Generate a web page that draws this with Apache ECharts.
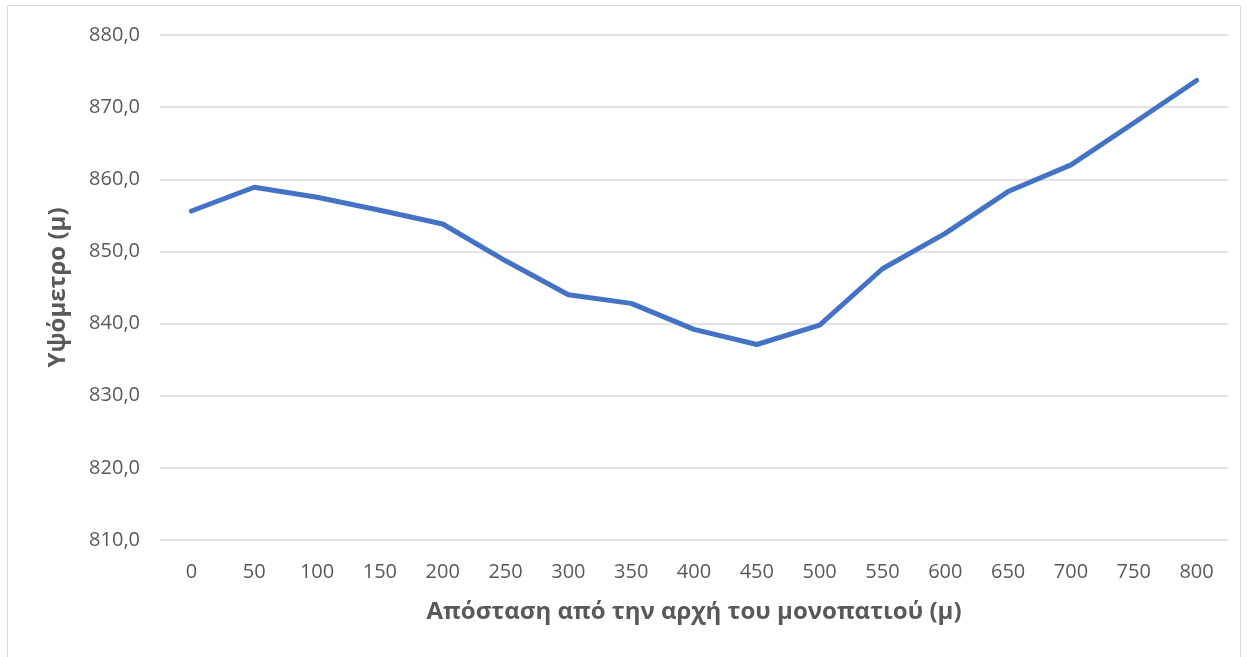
<!DOCTYPE html>
<html>
<head>
<meta charset="utf-8">
<script src="https://cdn.jsdelivr.net/npm/echarts@6/dist/echarts.min.js"></script>
<style>
html,body{margin:0;padding:0;background:#fff;}
#c{width:1252px;height:657px;}
</style>
</head>
<body>
<div id="c"></div>
<script>
const categories = ['0','50','100','150','200','250','300','350','400','450','500','550','600','650','700','750','800'];
const elevation = [855.6, 858.9, 857.5, 855.7, 853.8, 848.7, 844.0, 842.8, 839.2, 837.1, 839.8, 847.6, 852.5, 858.3, 862.0, 867.8, 873.7];
const yTitle = 'Υψόμετρο (μ)';
const xTitle = 'Απόσταση από την αρχή του μονοπατιού (μ)';

const chart = echarts.init(document.getElementById('c'));
const font = '"Open Sans", "Noto Sans", sans-serif';
chart.setOption({
  animation: false,
  backgroundColor: '#fff',
  graphic: [{
    type: 'rect', silent: true,
    shape: {x: 7.5, y: 5.5, width: 1233, height: 700},
    style: {fill: 'none', stroke: '#d9d9d9', lineWidth: 1}
  }],
  grid: {left: 160, right: 24, top: 35, bottom: 117},
  xAxis: {
    type: 'category',
    data: categories,
    boundaryGap: true,
    axisLine: {show: false},
    axisTick: {show: false},
    axisLabel: {color: '#595959', fontSize: 20, fontFamily: font, margin: 22},
    name: xTitle,
    nameLocation: 'middle',
    nameGap: 60,
    nameTextStyle: {color: '#595959', fontSize: 24, fontWeight: 'bold', fontFamily: font}
  },
  yAxis: {
    type: 'value',
    min: 810, max: 880, interval: 10,
    axisLine: {show: false},
    axisTick: {show: false},
    splitLine: {lineStyle: {color: '#d9d9d9', width: 1.5}},
    axisLabel: {
      color: '#595959', fontSize: 20, fontFamily: font, margin: 20,
      formatter: v => v.toFixed(1).replace('.', ',')
    },
    name: yTitle,
    nameLocation: 'middle',
    nameGap: 90,
    nameRotate: 90,
    nameTextStyle: {color: '#595959', fontSize: 24, fontWeight: 'bold', fontFamily: font}
  },
  series: [{
    type: 'line',
    data: elevation,
    showSymbol: false,
    symbol: 'none',
    lineStyle: {color: '#4472C4', width: 5, join: 'round', cap: 'round'},
    itemStyle: {color: '#4472C4'}
  }]
});
</script>
</body>
</html>
